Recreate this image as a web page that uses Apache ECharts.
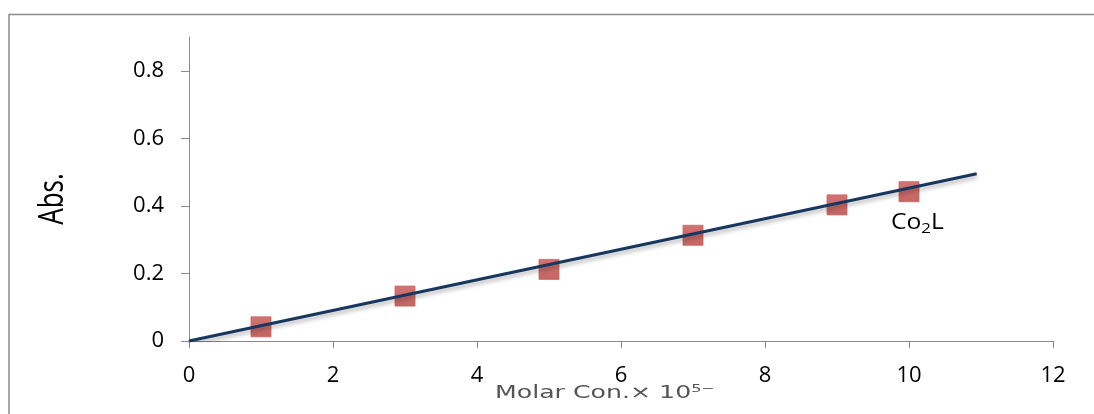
<!DOCTYPE html>
<html>
<head>
<meta charset="utf-8">
<script src="https://cdn.jsdelivr.net/npm/echarts@6/dist/echarts.min.js"></script>
<style>
html,body{margin:0;padding:0;background:#fff;}
#chart{width:1094px;height:414px;}
</style>
</head>
<body>
<div id="chart"></div>
<script>
// Data
const molarConc = [1, 3, 5, 7, 9, 10];
const absorbance = [0.042, 0.133, 0.212, 0.313, 0.403, 0.442];
const fitLineX = [0, 10.94];
const fitLineY = [0, 0.495];
const yTickValues = [0, 0.2, 0.4, 0.6, 0.8];
const xTickValues = [0, 2, 4, 6, 8, 10, 12];

const chart = echarts.init(document.getElementById('chart'), null, {renderer: 'canvas'});
const axisColor = '#8a8a8a';
const font = '"Open Sans", Lato, "Noto Sans", sans-serif';

const option = {
  backgroundColor: '#fff',
  animation: false,
  grid: {left: 189, right: 41, top: 37, bottom: 73, containLabel: false},
  xAxis: {
    type: 'value', min: 0, max: 12, interval: 2,
    axisLine: {show: true, onZero: false, lineStyle: {color: axisColor, width: 1}},
    axisTick: {show: true, length: 7, lineStyle: {color: axisColor}, customValues: xTickValues},
    axisLabel: {color: '#000', fontSize: 22, fontFamily: font, margin: 24, customValues: xTickValues},
    splitLine: {show: false}
  },
  yAxis: {
    type: 'value', min: 0, max: 0.9,
    axisLine: {show: true, lineStyle: {color: axisColor, width: 1}},
    axisTick: {show: true, length: 8, lineStyle: {color: axisColor}, customValues: yTickValues},
    axisLabel: {color: '#000', fontSize: 22, fontFamily: font, margin: 25, customValues: yTickValues,
      formatter: v => v === 0 ? '0' : String(v)},
    splitLine: {show: false}
  },
  series: [
    {
      type: 'line',
      data: fitLineX.map((x, i) => [x, fitLineY[i]]),
      symbol: 'none',
      lineStyle: {color: '#17375E', width: 3, shadowColor: 'rgba(0,0,0,0.3)', shadowBlur: 4, shadowOffsetY: 3},
      z: 3
    },
    {
      type: 'scatter',
      data: molarConc.map((x, i) => [x, absorbance[i]]),
      symbol: 'rect',
      symbolSize: 20,
      itemStyle: {
        color: {type: 'linear', x: 0, y: 0, x2: 0, y2: 1, colorStops: [{offset: 0, color: '#C6514E'}, {offset: 1, color: '#B5403D'}]},
        borderColor: '#C86360', borderWidth: 1
      },
      z: 2
    }
  ],
  graphic: [
    {type: 'polyline', shape: {points: [[9, 420], [9, 14.5], [1100, 14.5]]},
      style: {stroke: '#8c8c8c', lineWidth: 1.5, fill: null}, silent: true},
    {type: 'text', x: 891, y: 223, scaleX: 1.12,
      style: {text: 'Co{sub|2}L', fontSize: 22, fontFamily: font, fill: '#000', textVerticalAlign: 'middle',
        rich: {sub: {fontSize: 15, verticalAlign: 'bottom', padding: [12, 0, 0, 0], fontFamily: font, fill: '#000'}}}},
    {type: 'text', x: 53, y: 199, rotation: Math.PI / 2, scaleY: 1.3,
      style: {text: 'Abs.', fontSize: 26, fontFamily: font, fill: '#000', textAlign: 'center', textVerticalAlign: 'middle'}},
    {type: 'text', x: 495, y: 393, scaleX: 1.4,
      style: {text: 'Molar Con.× 10⁵⁻', fontSize: 18, fontFamily: '"DejaVu Sans", Verdana, sans-serif', fill: '#555', textVerticalAlign: 'middle'}}
  ]
};
chart.setOption(option);
</script>
</body>
</html>
